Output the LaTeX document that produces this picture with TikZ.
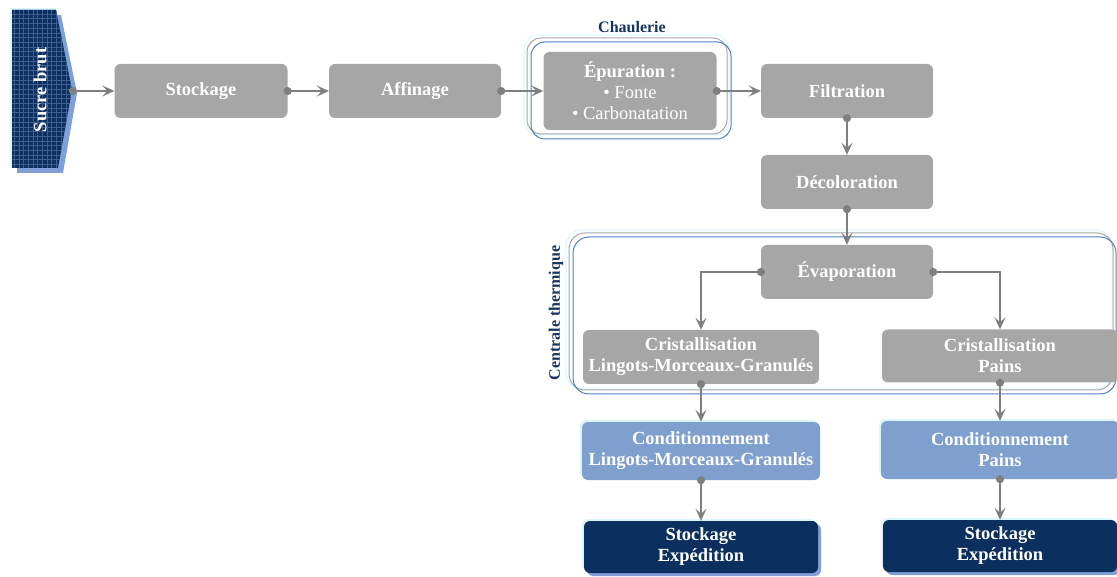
\documentclass[tikz,border=0pt]{standalone}
\usepackage{fontspec}
\setmainfont{Liberation Serif}
\usetikzlibrary{arrows.meta,shadows}
\definecolor{boxgray}{HTML}{A6A6A6}
\definecolor{conngray}{HTML}{7F7F7F}
\definecolor{condblue}{HTML}{7F9FCF}
\definecolor{navy}{HTML}{0B2F5E}
\definecolor{labnavy}{HTML}{17365D}
\definecolor{shadowblue}{HTML}{7F9FD6}
\definecolor{glowcyan}{HTML}{D9F6FB}
\definecolor{framegray}{HTML}{A6A6A6}
\definecolor{frameblue}{HTML}{4F7FC4}
\definecolor{gridblue}{HTML}{3D5E8E}
\tikzset{
  box/.style={rounded corners=6pt, fill=boxgray, text=white,
    font=\bfseries\fontsize{18.5}{21}\selectfont, align=center, inner sep=0pt},
  condbox/.style={box, fill=condblue,
    general shadow={shadow xshift=-2pt, shadow yshift=2pt, fill=glowcyan}},
  expbox/.style={box, fill=navy,
    general shadow={shadow xshift=-2pt, shadow yshift=2pt, fill=glowcyan},
    general shadow={shadow xshift=3pt, shadow yshift=-3pt, fill=shadowblue}},
  conn/.style={draw=conngray, line width=1.6pt,
    {Circle[length=8pt]}-{Stealth[length=12pt,width=11pt,inset=5pt]},
    shorten <=-4pt},
  framelab/.style={text=labnavy, font=\bfseries\fontsize{16}{18}\selectfont},
}
\begin{document}
\begin{tikzpicture}[x=1pt,y=-1pt]
\useasboundingbox (0,0) rectangle (1117,577);
% Sucre brut chevron
\fill[glowcyan] (10,8) -- (56,8) -- (72,90) -- (58,168) -- (10,168) -- cycle;
\fill[shadowblue] (17,15) -- (61,15) -- (77,93) -- (63,173) -- (17,173) -- cycle;
\fill[navy] (12,10) -- (56,10) -- (72,90) -- (58,168) -- (12,168) -- cycle;
\begin{scope}
\clip (12,10) -- (56,10) -- (72,90) -- (58,168) -- (12,168) -- cycle;
\draw[gridblue, line width=0.6pt, step=4.7pt] (0,0) grid (80,180);
\end{scope}
\node[rotate=90, text=white, font=\bfseries\fontsize{18.5}{21}\selectfont] (sucre) at (40,90) {Sucre brut};
\coordinate (sucretip) at (73,91);
% frames
\draw[glowcyan, line width=1pt, rounded corners=14pt] (524,35) rectangle (729,135);
\draw[framegray, line width=1pt, rounded corners=14pt] (527,38) rectangle (727,134);
\draw[frameblue, line width=1pt, rounded corners=14pt] (531,42) rectangle (731,139);
\node[framelab] (chaul) at (632,27) {Chaulerie};
\draw[glowcyan, line width=1pt, rounded corners=16pt] (566,230) rectangle (1112,389);
\draw[framegray, line width=1pt, rounded corners=16pt] (569,233) rectangle (1113,390);
\draw[frameblue, line width=1pt, rounded corners=16pt] (573,237) rectangle (1116,394);
\node[framelab, rotate=90] (centr) at (556,313) {Centrale thermique};
% boxes
\node[box, minimum width=173pt, minimum height=54pt] (stock) at (201,91) {Stockage};
\node[box, minimum width=172pt, minimum height=54pt] (affin) at (415,91) {Affinage};
\node[box, minimum width=173pt, minimum height=78pt] (epur) at (630,91)
  {Épuration :\\\mdseries\textbullet\ Fonte\\\mdseries\textbullet\ Carbonatation};
\node[box, minimum width=172pt, minimum height=54pt] (filt) at (847,91) {Filtration};
\node[box, minimum width=172pt, minimum height=54pt] (decol) at (847,182) {Décoloration};
\node[box, minimum width=172pt, minimum height=54pt] (evap) at (847,272) {Évaporation};
\node[box, minimum width=236pt, minimum height=54pt] (cris1) at (701,357) {Cristallisation\\Lingots-Morceaux-Granulés};
\node[box, minimum width=236pt, minimum height=53pt] (cris2) at (1000,356) {Cristallisation\\Pains};
\node[condbox, minimum width=238pt, minimum height=58pt] (cond1) at (701,451) {Conditionnement\\Lingots-Morceaux-Granulés};
\node[condbox, minimum width=238pt, minimum height=58pt] (cond2) at (1000,450) {Conditionnement\\Pains};
\node[expbox, minimum width=234pt, minimum height=52pt] (exp1) at (701,547) {Stockage\\Expédition};
\node[expbox, minimum width=234pt, minimum height=52pt] (exp2) at (1000,546) {Stockage\\Expédition};
% connectors
\draw[conn] (sucretip) -- (stock.west);
\draw[conn] (stock.east) -- (affin.west);
\draw[conn] (affin.east) -- (epur.west);
\draw[conn] (epur.east) -- (filt.west);
\draw[conn] (filt.south) -- (decol.north);
\draw[conn] (decol.south) -- (evap.north);
\draw[conn] (evap.west) -| (cris1.north);
\draw[conn] (evap.east) -| (cris2.north);
\draw[conn] (cris1.south) -- (cond1.north);
\draw[conn] (cris2.south) -- (cond2.north);
\draw[conn] (cond1.south) -- (exp1.north);
\draw[conn] (cond2.south) -- (exp2.north);
\end{tikzpicture}
\end{document}
